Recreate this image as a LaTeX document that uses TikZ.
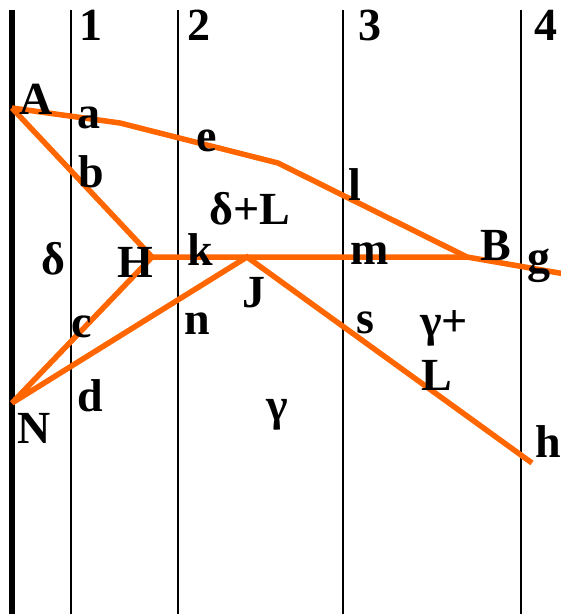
\documentclass[tikz,border=0pt]{standalone}
\usepackage{fontspec}
\setmainfont{Liberation Serif}
\definecolor{rayorange}{RGB}{255,102,0}

\begin{document}
\begin{tikzpicture}[x=1pt, y=-1pt,
  ray/.style={rayorange, line width=5.5pt, line join=miter, miter limit=3},
  lbl/.style={inner sep=0pt, font=\fontsize{46}{50}\selectfont\bfseries}]
  %--- parameters to tweak layout easily
  \def\ytop{10}     % top of the vertical lines
  \def\ybot{614}    % bottom of the vertical lines
  \def\xwall{12}    % the thick wall
  \useasboundingbox (0,0) rectangle (561,614);

  %--- thick wall on the left
  \draw[line width=5.5pt] (\xwall,\ytop) -- (\xwall,\ybot);

  %--- thin section lines with their numbers
  \foreach \xs/\n/\xl in {71/1/91, 178/2/199, 343/3/370, 521/4/546}{
    \draw[line width=1.3pt] (\xs,\ytop) -- (\xs,\ybot);
    \node[lbl] (num\n) at (\xl,25) {\n};
  }

  %--- corner points of the rays
  \coordinate (A) at (\xwall,108);
  \coordinate (bend1) at (120,123);
  \coordinate (bend2) at (278,163);
  \coordinate (B) at (467,257);
  \coordinate (gEnd) at (565,274);
  \coordinate (H) at (152,257);
  \coordinate (J) at (247,257);
  \coordinate (N) at (\xwall,403);
  \coordinate (hEnd) at (532,463);

  %--- orange rays
  \draw[ray] (A) -- (bend1) -- (bend2) -- (B) -- (gEnd);
  \draw[ray] (A) -- (H) -- (B);
  \draw[ray] (H) -- (N) -- (J) -- (hEnd);

  %--- point labels
  \node[lbl] (lblA) at (36,99) {A};
  \node[lbl] (lblB) at (496,246) {B};
  \node[lbl] (lblH) at (135,262) {H};
  \node[lbl] (lblJ) at (254,293) {J};
  \node[lbl] (lblN) at (34,428) {N};
  \node[lbl] (lblL) at (437,375) {L};

  %--- crossing labels
  \node[lbl] (lbla) at (89,118) {a};
  \node[lbl] (lblb) at (91,172) {b};
  \node[lbl] (lblc) at (82,327) {c};
  \node[lbl] (lbld) at (90,396) {d};
  \node[lbl] (lble) at (207,141) {e};
  \node[lbl] (lblk) at (200,250) {k};
  \node[lbl] (lbln) at (197,324) {n};
  \node[lbl] (lbll) at (355,185) {l};
  \node[lbl] (lblm) at (370,254) {m};
  \node[lbl] (lbls) at (365,323) {s};
  \node[lbl] (lblg) at (539,266) {g};
  \node[lbl] (lblh) at (548,442) {h};

  %--- region labels
  \node[lbl] (delta) at (53,259) {δ};
  \node[lbl] (deltaL) at (250,209) {δ+L};
  \node[lbl] (gamma) at (277,415) {γ};
  \node[lbl] (gammaP) at (444,328) {γ+};
\end{tikzpicture}
\end{document}
